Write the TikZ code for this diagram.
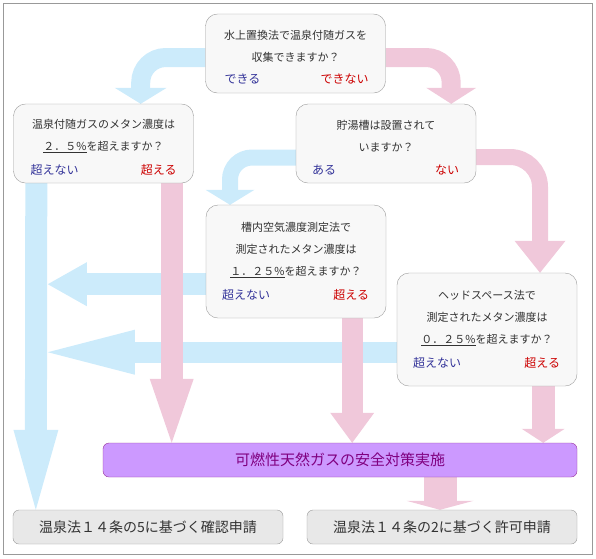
\documentclass[tikz,border=0pt]{standalone}
\usepackage{fontspec}
\setmainfont{Noto Sans CJK JP}
\usetikzlibrary{positioning,arrows.meta,calc,backgrounds}

\definecolor{boxline}{HTML}{999999}
\definecolor{boxfill}{HTML}{F8F8F8}
\definecolor{endfill}{HTML}{E8E8E8}
\definecolor{txtgray}{HTML}{333333}
\definecolor{yesblue}{HTML}{333399}
\definecolor{nored}{HTML}{CC0000}
\definecolor{flowblue}{HTML}{CCEBFB}
\definecolor{flowpink}{HTML}{F0C8DA}
\definecolor{actfill}{HTML}{CC99FF}
\definecolor{actline}{HTML}{993399}
\definecolor{acttext}{HTML}{800080}

\begin{document}
\begin{tikzpicture}[x=1pt, y=-1pt,
  qbox/.style={draw=boxline, fill=boxfill, rounded corners=12pt, minimum width=180pt,
               minimum height=79pt, inner sep=0pt},
  qtext/.style={text=txtgray, font=\fontsize{11pt}{22pt}\selectfont, align=center, inner sep=0pt},
  yes/.style={text=yesblue, font=\fontsize{12pt}{14pt}\selectfont, inner sep=0pt, anchor=west},
  no/.style={text=nored, font=\fontsize{12pt}{14pt}\selectfont, inner sep=0pt, anchor=east},
  endbox/.style={draw=boxline, fill=endfill, rounded corners=6pt, minimum width=270pt,
                 minimum height=34pt, text=txtgray, font=\fontsize{14pt}{16pt}\selectfont},
  act/.style={draw=actline, fill=actfill, rounded corners=6pt, minimum width=474pt,
              minimum height=34pt, text=acttext, font=\fontsize{15pt}{17pt}\selectfont},
  flow/.style n args={4}{draw=#1, line width=#2, -{Triangle[length=#3, width=#4, line width=0pt]}},
  frame/.style={draw=boxline, line width=0.8pt},
]
\useasboundingbox (0,0) rectangle (596,558);
\draw[frame] (3,3) rectangle (592.5,554.5);

% question boxes
\node[qbox] (Q) at (295.5,53.5) {};
\node[qbox] (C) at (103.5,143.5) {};
\node[qbox] (T) at (386,143.5) {};
\node[qbox, minimum height=113pt] (A) at (296,261.5) {};
\node[qbox, minimum height=113pt] (H) at (487,329.5) {};

% question texts
\node[qtext] (Qt) at ([yshift=7.5pt]Q.center) {水上置換法で温泉付随ガスを\\収集できますか？};
\node[qtext] (Ct) at ([yshift=7.5pt]C.center) {温泉付随ガスのメタン濃度は\\\underline{２．５\%}を超えますか？};
\node[qtext] (Tt) at ([yshift=7.5pt]T.center) {貯湯槽は設置されて\\いますか？};
\node[qtext] (At) at ([yshift=11.5pt]A.center) {槽内空気濃度測定法で\\測定されたメタン濃度は\\\underline{１．２５\%}を超えますか？};
\node[qtext] (Ht) at ([yshift=11.5pt]H.center) {ヘッドスペース法で\\測定されたメタン濃度は\\\underline{０．２５\%}を超えますか？};

% answers
\node[yes] (Qy) at ([xshift=19pt, yshift=14pt]Q.south west) {できる};
\node[no]  (Qn) at ([xshift=-17pt, yshift=14pt]Q.south east) {できない};
\node[yes] (Cy) at ([xshift=17pt, yshift=13pt]C.south west) {超えない};
\node[no]  (Cn) at ([xshift=-17pt, yshift=13pt]C.south east) {超える};
\node[yes] (Ty) at ([xshift=16pt, yshift=13pt]T.south west) {ある};
\node[no]  (Tn) at ([xshift=-17pt, yshift=13pt]T.south east) {ない};
\node[yes] (Ay) at ([xshift=16pt, yshift=23pt]A.south west) {超えない};
\node[no]  (An) at ([xshift=-17pt, yshift=23pt]A.south east) {超える};
\node[yes] (Hy) at ([xshift=16pt, yshift=23pt]H.south west) {超えない};
\node[no]  (Hn) at ([xshift=-17pt, yshift=23pt]H.south east) {超える};

% measures and applications
\node[act] (S) at (340,460) {可燃性天然ガスの安全対策実施};
\node[endbox] (K) at (148,527) {温泉法１４条の5に基づく確認申請};
\node[endbox] (P) at (442,527) {温泉法１４条の2に基づく許可申請};

% broad arrows behind the boxes
\begin{scope}[on background layer]
\coordinate (J)  at ([xshift=35pt]K.north west);
\coordinate (h1) at ([yshift=34pt]A.south west);
\coordinate (h2) at ([yshift=34pt]H.south west);
\coordinate (v1) at ([xshift=-22pt]C.south east);
\coordinate (v2) at ([xshift=-34pt]A.south east);
\coordinate (v3) at ([xshift=-34pt]H.south east);
\coordinate (v4) at ([xshift=100pt]S.south);

% yes branches
\draw[flow={flowblue}{19pt}{16pt}{52pt}, rounded corners=25pt]
  ([yshift=-4pt]Q.west) -| ([xshift=-53pt]C.north east);
\draw[flow={flowblue}{16pt}{15pt}{49pt}, rounded corners=22pt]
  ([yshift=-14pt]T.west) -| ([xshift=-66pt]A.north);
\draw[flow={flowblue}{22pt}{80pt}{45pt}] ([xshift=23pt]C.south west) -- ([xshift=23pt]K.north west);
\draw[flow={flowblue}{22pt}{39pt}{44pt}] (h1) -- (h1 -| J);
\draw[flow={flowblue}{21pt}{87pt}{45pt}] (h2) -- (h2 -| J);

% no branches
\draw[flow={flowpink}{19pt}{16pt}{50pt}, rounded corners=25pt]
  ([yshift=-4pt]Q.east) -| ([xshift=-25pt]T.north east);
\draw[flow={flowpink}{16pt}{32pt}{51pt}, rounded corners=30pt]
  ([yshift=-13.5pt]T.east) -| ([xshift=53pt]H.north);
\draw[flow={flowpink}{22pt}{64pt}{44pt}] (v1) -- (v1 |- S.north);
\draw[flow={flowpink}{21pt}{30pt}{44pt}] (v2) -- (v2 |- S.north);
\draw[flow={flowpink}{23pt}{14pt}{43pt}] (v3) -- (v3 |- S.north);
\draw[flow={flowpink}{33pt}{9pt}{67pt}]  (v4) -- (v4 |- P.north);
\end{scope}
\end{tikzpicture}
\end{document}
